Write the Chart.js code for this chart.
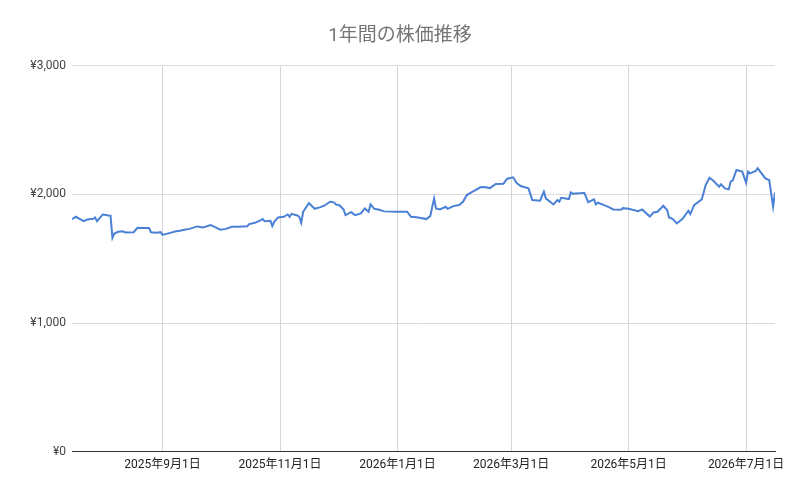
<!DOCTYPE html>
<html lang="ja">
<head>
<meta charset="UTF-8">
<title>1年間の株価推移</title>
<script src="https://cdn.jsdelivr.net/npm/chart.js"></script>
<style>
  html, body { margin: 0; padding: 0; background: #fff; }
  #wrap { width: 800px; height: 494px; }
</style>
</head>
<body>
<div id="wrap"><canvas id="priceChart"></canvas></div>
<script>
// 期間 (x軸の範囲)
const startDate = '2025-07-16';
const endDate = '2026-07-16';

// 日付と株価
const dates = [
  '2025-07-16','2025-07-18','2025-07-22','2025-07-24','2025-07-27','2025-07-28','2025-07-29',
  '2025-08-01','2025-08-04','2025-08-05','2025-08-06','2025-08-07','2025-08-09','2025-08-11',
  '2025-08-13','2025-08-17','2025-08-19','2025-08-22','2025-08-25','2025-08-26','2025-08-29',
  '2025-08-31','2025-09-01','2025-09-05','2025-09-08','2025-09-10','2025-09-13','2025-09-15',
  '2025-09-19','2025-09-22','2025-09-26','2025-09-28','2025-10-01','2025-10-04','2025-10-07',
  '2025-10-10','2025-10-15','2025-10-16','2025-10-19','2025-10-22','2025-10-23','2025-10-24',
  '2025-10-27','2025-10-28','2025-10-29','2025-10-31','2025-11-03','2025-11-05','2025-11-06',
  '2025-11-07','2025-11-10','2025-11-11','2025-11-12','2025-11-13','2025-11-16','2025-11-19',
  '2025-11-22','2025-11-24','2025-11-27','2025-11-29','2025-11-30','2025-12-02','2025-12-04',
  '2025-12-05','2025-12-08','2025-12-10','2025-12-13','2025-12-15','2025-12-17','2025-12-18',
  '2025-12-20','2025-12-23','2025-12-25','2026-01-01','2026-01-06','2026-01-08','2026-01-11',
  '2026-01-16','2026-01-18','2026-01-20','2026-01-21','2026-01-23','2026-01-26','2026-01-27',
  '2026-01-30','2026-02-02','2026-02-04','2026-02-06','2026-02-09','2026-02-10','2026-02-13',
  '2026-02-15','2026-02-18','2026-02-21','2026-02-25','2026-02-27','2026-03-02','2026-03-04',
  '2026-03-06','2026-03-10','2026-03-12','2026-03-16','2026-03-18','2026-03-19','2026-03-23',
  '2026-03-25','2026-03-26','2026-03-27','2026-03-31','2026-04-01','2026-04-02','2026-04-05',
  '2026-04-08','2026-04-10','2026-04-13','2026-04-14','2026-04-15','2026-04-18','2026-04-21',
  '2026-04-23','2026-04-27','2026-04-28','2026-05-01','2026-05-03','2026-05-06','2026-05-08',
  '2026-05-12','2026-05-14','2026-05-16','2026-05-19','2026-05-21','2026-05-22','2026-05-24',
  '2026-05-26','2026-05-29','2026-06-01','2026-06-02','2026-06-04','2026-06-08','2026-06-10',
  '2026-06-12','2026-06-14','2026-06-17','2026-06-18','2026-06-20','2026-06-22','2026-06-23',
  '2026-06-24','2026-06-26','2026-06-29','2026-07-01','2026-07-02','2026-07-03','2026-07-06',
  '2026-07-07','2026-07-11','2026-07-13','2026-07-15','2026-07-16'
];
const prices = [
  1808,1826,1792,1805,1810,1821,1792,
  1844,1836,1834,1662,1696,1709,1714,
  1704,1706,1740,1738,1738,1706,1701,
  1706,1685,1701,1714,1717,1727,1732,
  1751,1743,1761,1748,1725,1732,1748,
  1748,1753,1769,1779,1800,1808,1792,
  1795,1753,1787,1821,1826,1844,1826,
  1849,1836,1826,1779,1865,1932,1888,
  1901,1912,1943,1938,1922,1914,1883,
  1839,1862,1839,1852,1891,1865,1922,
  1888,1878,1868,1865,1865,1826,1823,
  1808,1831,1969,1891,1883,1904,1888,
  1909,1917,1943,1995,2021,2029,2055,
  2057,2049,2081,2083,2122,2133,2086,
  2065,2047,1956,1951,2021,1969,1922,
  1956,1943,1974,1964,2016,2005,2008,
  2013,1940,1961,1922,1935,1919,1899,
  1883,1880,1893,1888,1880,1870,1883,
  1828,1860,1865,1912,1878,1821,1808,
  1774,1810,1873,1847,1917,1961,2073,
  2130,2106,2060,2078,2047,2039,2101,
  2106,2190,2177,2091,2177,2164,2182,
  2203,2125,2112,1904,2015
];

// 目盛り
const tickDates = ['2025-09-01','2025-11-01','2026-01-01','2026-03-01','2026-05-01','2026-07-01'];
const tickLabels = ['2025年9月1日','2025年11月1日','2026年1月1日','2026年3月1日','2026年5月1日','2026年7月1日'];
const yTicks = [0, 1000, 2000, 3000];

const fontFamily = 'Roboto, "Noto Sans CJK JP", sans-serif';

// 開始日からの日数
function dayOf(s) {
  return (Date.parse(s) - Date.parse(startDate)) / 86400000;
}

const tickDays = tickDates.map(dayOf);
const points = dates.map((d, i) => ({ x: dayOf(d), y: prices[i] }));

const ctx = document.getElementById('priceChart').getContext('2d');

const priceChart = new Chart(ctx, {
  type: 'line',
  data: {
    datasets: [{
      label: '株価',
      data: points,
      borderColor: '#4a80d6',
      borderWidth: 2,
      pointRadius: 0,
      tension: 0,
      fill: false
    }]
  },
  options: {
    responsive: true,
    maintainAspectRatio: false,
    animation: false,
    layout: { padding: { left: 25, right: 25, top: 0, bottom: 16 } },
    plugins: {
      legend: { display: false },
      tooltip: { enabled: false },
      title: {
        display: true,
        text: '1年間の株価推移',
        color: '#757575',
        font: { family: fontFamily, size: 19, weight: 'normal' },
        padding: { top: 25, bottom: 18 }
      }
    },
    scales: {
      x: {
        type: 'linear',
        min: 0,
        max: dayOf(endDate),
        afterBuildTicks: s => { s.ticks = tickDays.map(v => ({ value: v })); },
        ticks: {
          color: '#222',
          font: { family: fontFamily, size: 12 },
          padding: 6,
          maxRotation: 0,
          autoSkip: false,
          callback: v => tickLabels[tickDays.indexOf(v)]
        },
        grid: { color: '#d6d6d6', drawTicks: false },
        border: { display: true, color: '#333' }
      },
      y: {
        min: 0,
        max: 3000,
        afterBuildTicks: s => { s.ticks = yTicks.map(v => ({ value: v })); },
        afterFit: s => { s.width = 47; },
        ticks: {
          color: '#444',
          font: { family: fontFamily, size: 12 },
          padding: 6,
          callback: v => '¥' + v.toLocaleString('en-US')
        },
        grid: {
          color: c => c.tick && c.tick.value === 0 ? '#333' : '#dcdcdc',
          drawTicks: false
        },
        border: { display: false }
      }
    }
  }
});
</script>
</body>
</html>
